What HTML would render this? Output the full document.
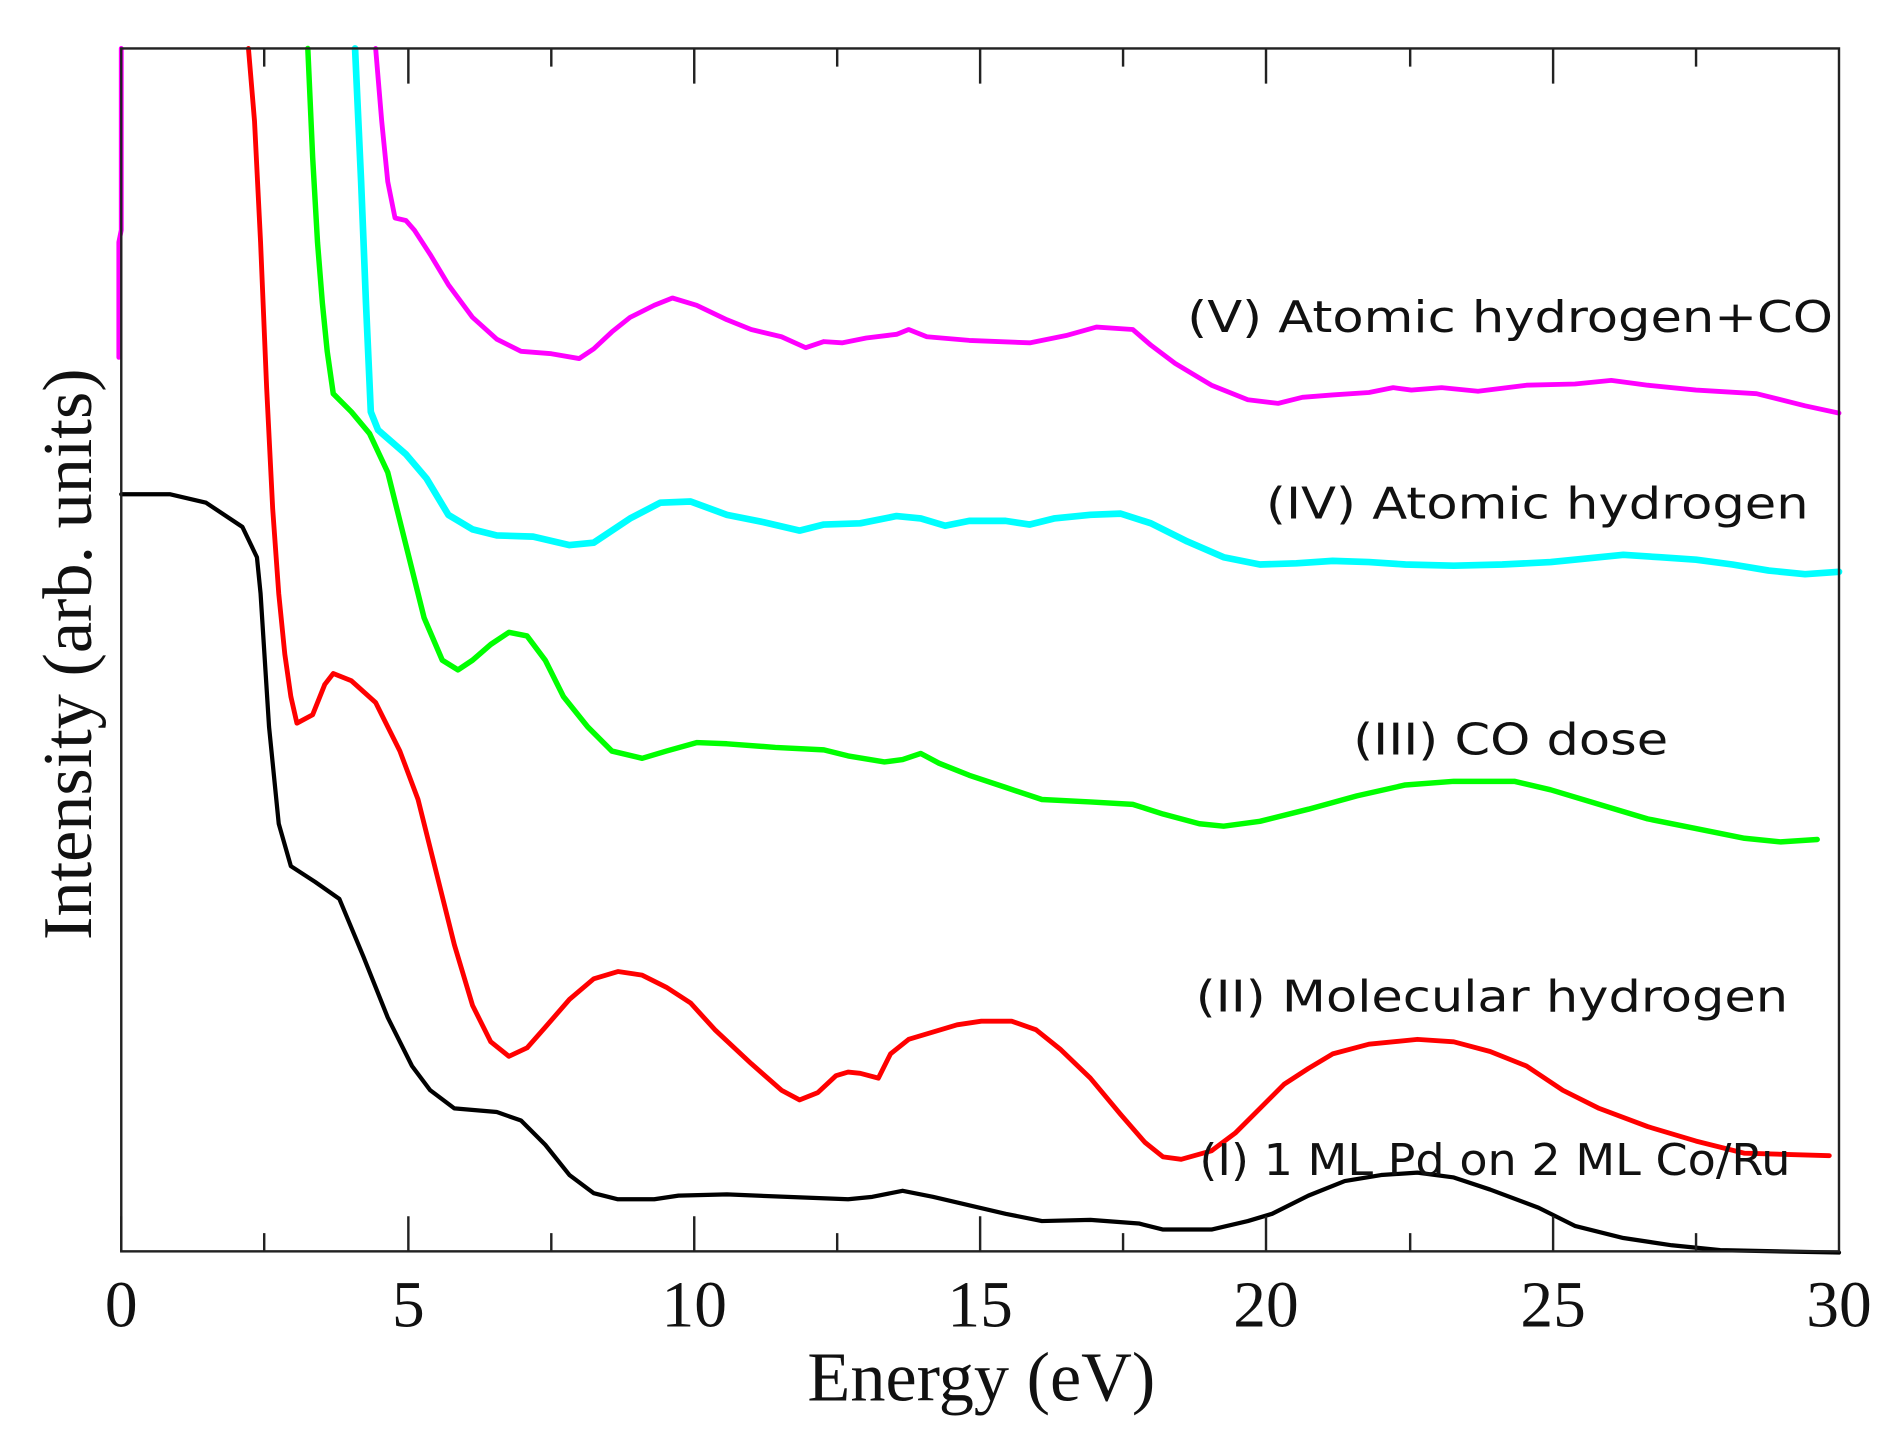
<!DOCTYPE html>
<html><head><style>html,body{margin:0;padding:0;background:#fff}</style></head><body>
<svg width="1890" height="1427" viewBox="0 0 1560 1178" xmlns="http://www.w3.org/2000/svg">
<rect x="0" y="0" width="1560" height="1178" fill="#fff"/>
<g fill="none" stroke-linejoin="round" stroke-linecap="round">
<polyline stroke="#ff00ff" stroke-width="4" points="100,40 100,190 98,200 98,295"/>
<polyline stroke="#ff00ff" stroke-width="4" points="310,40 315,100 320,150 326,180 335,182 342,190 355,210 370,235 390,262 410,280 430,290 455,292 478,296 490,288 505,274 520,262 540,252 555,246 575,252 600,264 620,272 645,278 665,287 680,282 695,283 715,279 740,276 750,272 765,278 800,281 850,283 880,277 905,270 935,272 950,285 970,300 1000,318 1030,330 1055,333 1075,328 1100,326 1130,324 1150,320 1165,322 1190,320 1220,323 1260,318 1300,317 1330,314 1360,318 1400,322 1450,325 1490,335 1518,341"/>
<polyline stroke="#00ffff" stroke-width="5.5" points="293,40 298,150 302,250 306,340 312,355 335,375 352,395 370,425 390,437 410,442 440,443 470,450 490,448 520,428 545,415 570,414 600,425 630,431 660,438 680,433 710,432 740,426 760,428 780,434 800,430 830,430 850,433 870,428 900,425 925,424 950,432 980,447 1010,460 1040,466 1070,465 1100,463 1130,464 1160,466 1200,467 1240,466 1280,464 1310,461 1340,458 1370,460 1400,462 1430,466 1460,471 1490,474 1518,472"/>
<polyline stroke="#00ff00" stroke-width="4.5" points="254,40 258,130 262,200 266,250 270,290 275,325 290,340 305,358 320,390 335,450 350,510 365,545 378,553 390,545 405,532 420,522 435,525 450,545 465,575 485,600 505,620 530,626 550,620 575,613 600,614 640,617 680,619 700,624 730,629 745,627 760,622 775,630 800,640 830,650 860,660 900,662 935,664 960,672 990,680 1010,682 1040,678 1080,668 1120,657 1160,648 1200,645 1250,645 1280,652 1320,664 1360,676 1400,684 1440,692 1470,695 1500,693"/>
<polyline stroke="#ff0000" stroke-width="4" points="205,40 210,100 215,200 220,320 225,420 230,490 235,540 240,575 245,597 258,590 268,565 275,556 290,562 310,580 330,620 345,660 360,720 375,780 390,830 405,860 420,872 435,865 450,848 470,825 490,808 510,802 530,805 550,815 570,828 590,850 620,878 645,900 660,908 675,902 690,888 700,885 710,886 725,890 735,870 750,858 770,852 790,846 810,843 835,843 855,850 875,866 900,890 925,920 945,943 960,955 975,957 1000,950 1020,935 1040,915 1060,895 1080,882 1100,870 1130,862 1170,858 1200,860 1230,868 1260,880 1290,900 1320,915 1360,930 1400,942 1440,952 1510,954"/>
<polyline stroke="#000" stroke-width="3.5" points="100,408 140,408 170,415 200,435 212,460 215,490 222,600 230,680 240,715 260,728 280,742 300,790 320,840 340,880 355,900 375,915 410,918 430,925 450,945 470,970 490,985 510,990 540,990 560,987 600,986 650,988 700,990 720,988 745,983 770,988 800,995 830,1002 860,1008 900,1007 940,1010 960,1015 1000,1015 1030,1008 1050,1002 1080,987 1110,975 1140,970 1170,968 1200,972 1230,982 1270,997 1300,1012 1340,1022 1380,1028 1420,1032 1518,1034"/>
</g>
<g stroke="#222" stroke-width="2" fill="none">
<rect x="100" y="40" width="1418" height="993"/>
<path d="M100,1033v-29M218,1033v-15M337,1033v-29M455,1033v-15M573,1033v-29M691,1033v-15M809,1033v-29M927,1033v-15M1045,1033v-29M1164,1033v-15M1282,1033v-29M1400,1033v-15
M218,40v15M337,40v29M455,40v15M573,40v29M691,40v15M809,40v29M927,40v15M1045,40v29M1164,40v15M1282,40v29M1400,40v15"/>
</g>
<g font-family="'Liberation Serif',serif" font-size="54" fill="#111" text-anchor="middle">
<text x="100" y="1095">0</text><text x="337" y="1095">5</text><text x="573" y="1095">10</text><text x="809" y="1095">15</text><text x="1045" y="1095">20</text><text x="1282" y="1095">25</text><text x="1518" y="1095">30</text>
<text x="810" y="1156" font-size="58">Energy (eV)</text>
<text transform="translate(75,540) rotate(-90)" font-size="58">Intensity (arb. units)</text>
</g>
<g font-family="'DejaVu Sans',sans-serif" font-size="36" fill="#111">
<text x="980" y="274" textLength="533" lengthAdjust="spacingAndGlyphs">(V) Atomic hydrogen+CO</text>
<text x="1045" y="428" textLength="448" lengthAdjust="spacingAndGlyphs">(IV) Atomic hydrogen</text>
<text x="1117" y="623" textLength="260" lengthAdjust="spacingAndGlyphs">(III) CO dose</text>
<text x="987" y="835" textLength="489" lengthAdjust="spacingAndGlyphs">(II) Molecular hydrogen</text>
<text x="990" y="970" textLength="488" lengthAdjust="spacingAndGlyphs">(I) 1 ML Pd on 2 ML Co/Ru</text>
</g>
</svg>
</body></html>
